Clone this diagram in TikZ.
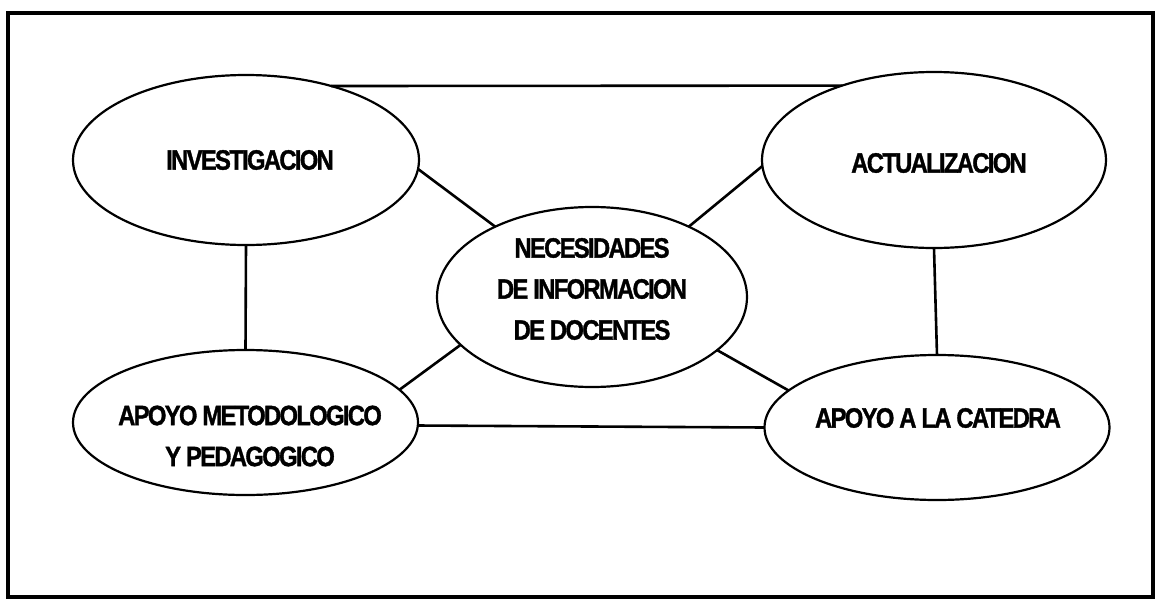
\documentclass[tikz,border=0pt]{standalone}
\usepackage{fontspec}
\setmainfont{Liberation Sans}
\newfontfamily\labfont{Liberation Sans}[FakeStretch=0.85,LetterSpace=-6,FakeBold=1.2]
\usetikzlibrary{shapes.geometric}
\begin{document}
\begin{tikzpicture}[x=0.5pt,y=-0.5pt,
  oval/.style={ellipse,draw,line width=1.1pt,inner sep=0pt,outer sep=0pt},
  lab/.style={font=\labfont\bfseries\fontsize{14}{20.5}\selectfont,align=center,inner sep=0pt},
  link/.style={line width=1.3pt}]
\useasboundingbox (0,0) rectangle (1158,600);
\draw[line width=1.8pt] (8,13) rectangle (1153,597);

\node[oval,minimum width=173pt,minimum height=85pt] (inv) at (246,160) {};
\node[oval,minimum width=172pt,minimum height=88pt] (act) at (934,160) {};
\node[oval,minimum width=155pt,minimum height=90pt] (nec) at (592,297) {};
\node[oval,minimum width=172.5pt,minimum height=72.5pt] (met) at (245.5,422.5) {};
\node[oval,minimum width=172.5pt,minimum height=72.5pt] (cat) at (937,427.5) {};

\node[lab] (tinv) at (250,160) {INVESTIGACION};
\node[lab] (tact) at (939,163) {ACTUALIZACION};
\node[lab] (tnec) at (592,289) {NECESIDADES\\DE INFORMACION\\DE DOCENTES};
\node[lab] (tmet) at (250,436) {APOYO METODOLOGICO\\Y PEDAGOGICO};
\node[lab] (tcat) at (938,418) {APOYO A LA CATEDRA};

\draw[link] (inv.41) -- (act.141.5);
\draw[link] (inv.-3.5) -- (nec.144.8);
\draw[link] (act.182.8) -- (nec.36.5);
\draw[link] (nec.200.5) -- (met.12);
\draw[link] (nec.337.5) -- (cat.166.9);
\draw[link] (inv.south) -- (met.north);
\draw[link] (act.south) -- (cat.north);
\draw[link] (met.-1.5) -- (cat.west);
\end{tikzpicture}
\end{document}
